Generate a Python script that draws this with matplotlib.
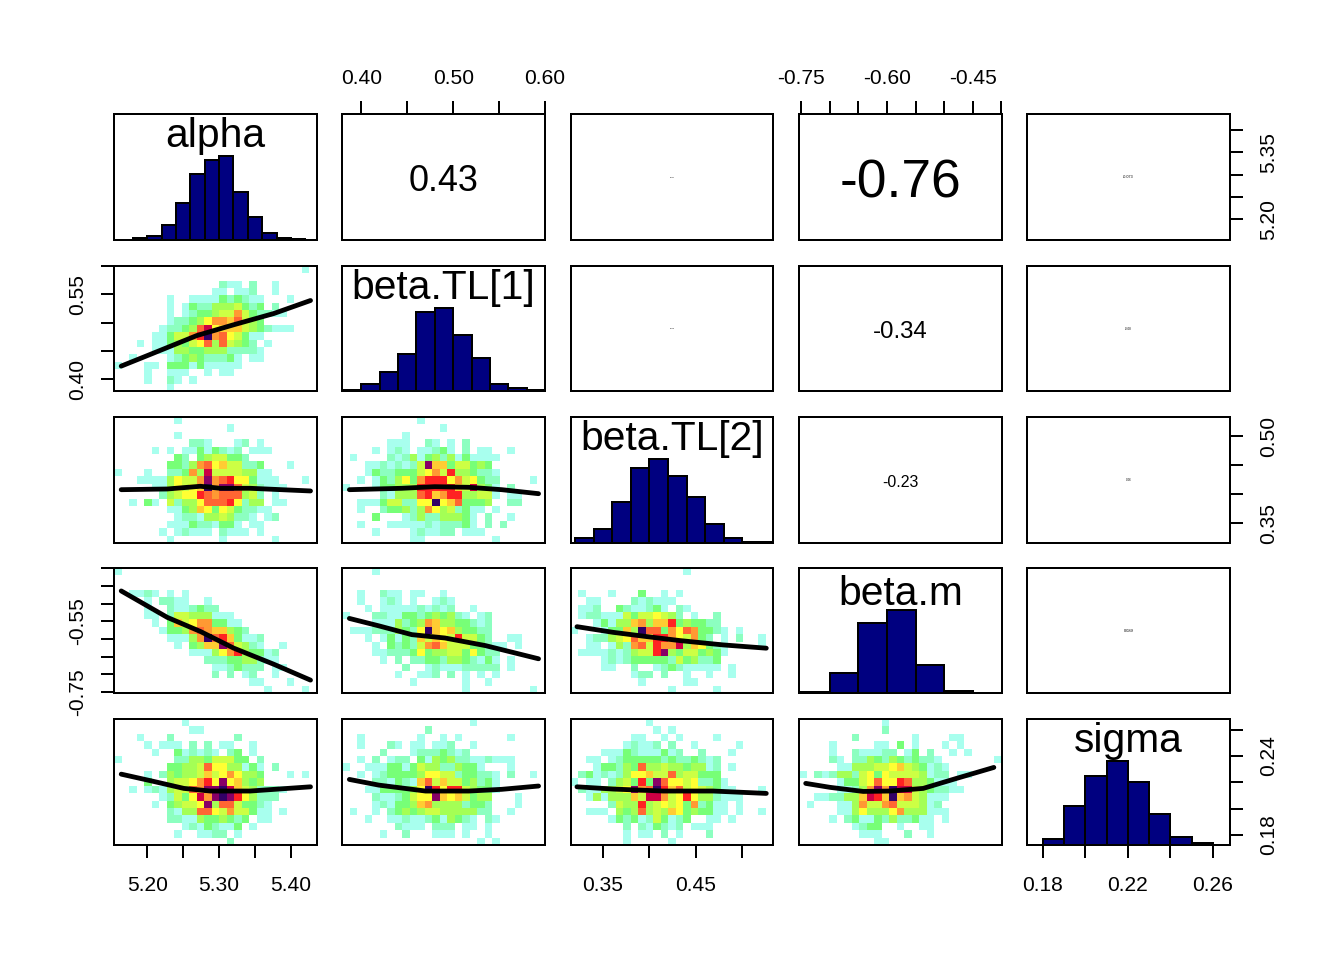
import numpy as np
import matplotlib
matplotlib.use("Agg")
import matplotlib.pyplot as plt
from matplotlib.colors import ListedColormap, BoundaryNorm

plt.rcParams['font.family'] = ['Liberation Sans', 'DejaVu Sans']

# parameter names and their plotted ranges
names = ["alpha", "beta.TL[1]", "beta.TL[2]", "beta.m", "sigma"]
lims = [(5.154, 5.436), (0.379, 0.600), (0.3156, 0.5328), (-0.7535, -0.399), (0.1725, 0.268)]

# axis ticks
ticks = [
    [5.20, 5.25, 5.30, 5.35, 5.40],
    [0.40, 0.45, 0.50, 0.55, 0.60],
    [0.35, 0.40, 0.45, 0.50],
    [-0.75, -0.70, -0.65, -0.60, -0.55, -0.50, -0.45, -0.40],
    [0.18, 0.20, 0.22, 0.24, 0.26],
]
bottom_labels = {0: ["5.20", "", "5.30", "", "5.40"],
                 2: ["0.35", "", "0.45", ""],
                 4: ["0.18", "", "0.22", "", "0.26"]}
top_labels = {1: ["0.40", "", "0.50", "", "0.60"],
              3: ["-0.75", "", "", "-0.60", "", "", "-0.45", ""]}
left_labels = {1: ["0.40", "", "", "0.55", ""],
               3: ["-0.75", "", "", "", "-0.55", "", "", ""]}
right_labels = {0: ["5.20", "", "", "5.35", ""],
                2: ["0.35", "", "", "0.50"],
                4: ["0.18", "", "", "0.24", ""]}

# histograms: bin breaks and counts
alpha_breaks = [5.16, 5.18, 5.20, 5.22, 5.24, 5.26, 5.28, 5.30, 5.32, 5.34, 5.36, 5.38, 5.40, 5.42, 5.44]
alpha_counts = [1, 5, 13, 45, 110, 200, 242, 253, 145, 70, 20, 5, 2, 1]
tl1_breaks = [0.38, 0.40, 0.42, 0.44, 0.46, 0.48, 0.50, 0.52, 0.54, 0.56, 0.58, 0.60]
tl1_counts = [1, 7, 19, 37, 80, 84, 56, 33, 7, 3, 1]
tl2_breaks = [0.32, 0.34, 0.36, 0.38, 0.40, 0.42, 0.44, 0.46, 0.48, 0.50, 0.52, 0.54]
tl2_counts = [5, 14, 41, 76, 85, 68, 47, 19, 5, 1, 1]
m_breaks = [-0.75, -0.70, -0.65, -0.60, -0.55, -0.50, -0.45, -0.40]
m_counts = [1, 20, 71, 84, 28, 2, 0]
sigma_breaks = [0.17, 0.18, 0.19, 0.20, 0.21, 0.22, 0.23, 0.24, 0.25, 0.26, 0.27]
sigma_counts = [0, 6, 39, 68, 83, 62, 31, 8, 2, 0]

# correlations in the upper panels: (row, col, text, font size)
cor_text = [
    (0, 1, "0.43", 18), (0, 2, "0.011", 0.6), (0, 3, "-0.76", 26.7), (0, 4, "-0.073", 1.9),
    (1, 2, "0.012", 0.6), (1, 3, "-0.34", 12), (1, 4, "-0.08", 1.5),
    (2, 3, "-0.23", 8), (2, 4, "0.06", 1.5),
    (3, 4, "0.089", 2),
]

# density levels of the lower panels (row 0 = top of the panel)
grid_1_0 = """
0000000000 0000000000 0000010
0000000000 0000000000 0000000
0000000000 0000211020 0100000
0000000000 0001101120 0100000
0000000100 1111323211 0001000
0000000101 3224445323 0200000
0000000101 2334558532 2110000
0000000122 3468879543 0000000
0000001223 49b6777543 2111000
0000011355 8ad8965311 0000000
0001011343 5694954320 1000000
0000011144 3344422221 0000000
0010000123 4322231011 0000000
1000110333 1311111000 0000000
0000100111 0010110000 0000000
0000100210 1000000000 0000000
0000000100 0000000000 0000000
"""
grid_2_0 = """
0000000010 0000000000 0000000
0000000000 0000010000 0000000
0000000010 0000000000 0000000
0000000000 2210001201 0000000
0000010101 1313212011 1000000
0000000032 0345533200 0000000
0000000332 4896755223 0001000
1000100223 84b5555441 1000000
0001111465 58c89a6631 1100010
0000011465 67d8cc9542 1110000
0000002456 6a98999452 0100000
0010310524 46999a6244 0110000
0000000113 4763653221 1000000
0000000012 2144542210 1200000
0000000111 3221331011 0000000
0000001012 1110211101 0000000
0000000100 0000100000 0100000
"""
grid_3_0 = """
1000000000 0000000000 0000000
0000000000 0000000000 0000000
0000000000 0000000000 0000000
0011210101 0000000000 0000000
0000102211 0010000000 0000000
0000100211 2322000000 0000000
0000110255 4441110000 0000000
0000010375 6883311000 0000000
0000001334 8987743200 0000000
0000000111 48d9a73112 0000000
0000000010 3477c95421 0010000
0000000000 111468a433 1200000
0000000000 0022233442 1100000
0000000000 0001123222 0110000
0000000000 0002020120 0100000
0000000000 0000000011 0001000
0000000000 0000000000 1000010
"""
grid_4_0 = """
0000000001 0000000000 0000000
0000000000 1100000000 0000000
0001000200 0000002000 0000000
0000101110 2020110010 0000000
0000010031 2121023010 0000000
1000000022 4435553302 0000000
0000000334 4596644131 0200000
0000102434 4575686443 0001010
0000300455 68a6c67434 0000000
0010121455 98ccdb7542 2210000
0000001253 6b8cdca642 2200000
0000010345 56c4995332 1000000
0000000214 4996585531 1010000
0000000221 1433432301 1000000
0000000001 2132113010 0000000
0000000010 0112201000 0000000
0000000000 0000020000 0000000
"""
grid_2_1 = """
0000000000 1000000000 0000000
0000000000 0001000000 0000000
0000000010 0000000000 0000000
0000001110 0210102000 0000000
0000101210 1123102011 0010000
0100002124 1342413111 1000000
0001121212 5c77355343 0000000
0001322333 5685a44322 1000000
0010132463 8aaa685632 2000010
1000133444 aaaaa75b43 1020000
0000021444 9a78aa4455 1011000
0011135522 66d6793334 0022000
0010023342 4864523110 1000000
0000300012 4224443102 0010000
0010001111 1212223102 0200000
0000100001 2112201110 0000000
0000000001 1000000000 1000000
"""
grid_3_1 = """
0000100000 0000000000 0000000
0000000000 0000000000 0000000
0000000000 0000000000 0000000
0010021101 1001000000 0000000
0010012101 0012100000 0000000
0001011111 2121200100 0000000
1000221133 2343421012 0000000
0000111423 4874433212 0000000
0111222432 6d76743322 0000000
0001013132 75765a5532 0011000
0000103232 5897555332 1101000
0000112223 6344553632 2000000
0000010202 2332443213 1010000
0000000020 0121112222 2010000
0000000100 1120201010 1000000
0000000001 0000001001 0000000
0000000000 0000001000 0000010
"""
grid_4_1 = """
0000000000 0000000100 0000000
0000000000 0200000000 0000000
0010000000 1001010000 0010000
0010002101 1011200100 0000000
0000020001 2223212000 0000000
0010201220 3143422112 1110000
1001113313 5442243310 0010000
0010123333 4665523322 1020010
0000221321 7957553423 1000000
0001133334 6da6aa5433 1000000
0000211235 66c7675344 0001000
0000121334 7844442332 0001000
0100102343 4554444422 0010000
0001001121 1231432102 1000000
0000000211 1022201101 0000000
0000010020 0011101001 0000000
0000000000 0000000010 1000000
"""
grid_3_2 = """
0000000000 0000010000 0000000
0000000000 0000000000 0000000
0000000000 0000000000 0000000
0100010003 0010100000 0000000
0011000021 2111000000 0000000
0112003211 2310210000 0000000
0122111535 5654201002 0000000
0001314478 477a343322 0000000
100013374d 9938698332 1010000
0012245697 7aa8658320 1020010
0011014289 5a88b47632 1000010
0111121245 5ac4355343 1000000
0000121233 3332534223 0000000
0000110020 0123211111 0100000
0000000012 2020010010 0100000
0000000001 0000011000 0000000
0000000000 0001000001 0000000
"""
grid_4_2 = """
0000000000 1000000000 0000000
0000000000 0101000000 0000000
0000000011 0010100001 0000000
0000000121 1202001000 0010000
0000111321 1131200200 0100000
0011012333 3323223212 0000000
0001332439 4454434412 0100000
0231212466 7559455333 0000000
101102453a 3c96656223 1000000
02114456c8 9da7956543 1100010
0014144475 bb856a6442 1110000
000002544a 4565638231 1010000
0011104349 4547634331 1010010
0000013231 2531230011 0100000
0000000202 1321201110 0000000
0000000101 1020100020 0000000
0000000100 0001000000 0000000
"""
grid_4_3 = """
0000000000 0100000000 0000000
0000000000 0200000000 0000000
0000000200 0000010000 1100000
0000100000 1103010001 0100000
0000100211 1220130200 1010000
0000210224 3243232210 0000001
0000011444 5567543121 0000000
1021244256 3655554122 0110000
0000013356 966a944311 1000000
0000011248 c8dbb54322 1100000
001122447b a7d7854111 0000000
0100011485 5895554120 0000000
0000011464 4468444111 0000000
0000102311 3242231101 0000000
0000000123 3001001100 0000000
0000000011 1000200100 0000000
0000000000 1100000000 0000000
"""
grids = {(1, 0): grid_1_0, (2, 0): grid_2_0, (3, 0): grid_3_0, (4, 0): grid_4_0,
         (2, 1): grid_2_1, (3, 1): grid_3_1, (4, 1): grid_4_1,
         (3, 2): grid_3_2, (4, 2): grid_4_2, (4, 3): grid_4_3}

# smoothed trend lines (x values, y values)
trends = {
    (1, 0): ([5.164, 5.205, 5.269, 5.320, 5.376, 5.427], [0.423, 0.444, 0.477, 0.496, 0.516, 0.539]),
    (2, 0): ([5.164, 5.228, 5.274, 5.302, 5.343, 5.427], [0.4075, 0.4087, 0.4134, 0.4099, 0.4099, 0.4053]),
    (3, 0): ([5.164, 5.228, 5.274, 5.320, 5.376, 5.427], [-0.464, -0.539, -0.579, -0.626, -0.672, -0.717]),
    (4, 0): ([5.164, 5.205, 5.251, 5.288, 5.343, 5.427], [0.2262, 0.2212, 0.2154, 0.2134, 0.2134, 0.2166]),
    (2, 1): ([0.387, 0.444, 0.480, 0.517, 0.553, 0.593], [0.4075, 0.4099, 0.4127, 0.4116, 0.4075, 0.4006]),
    (3, 1): ([0.387, 0.419, 0.455, 0.491, 0.535, 0.593], [-0.542, -0.563, -0.588, -0.5975, -0.619, -0.6565]),
    (4, 1): ([0.387, 0.419, 0.470, 0.517, 0.553, 0.593], [0.2222, 0.2179, 0.2134, 0.2134, 0.2147, 0.2172]),
    (3, 2): ([0.322, 0.361, 0.397, 0.4325, 0.479, 0.5256], [-0.5654, -0.5815, -0.5935, -0.6048, -0.6171, -0.6264]),
    (4, 2): ([0.322, 0.361, 0.4145, 0.4683, 0.5256], [0.2166, 0.2149, 0.2134, 0.2134, 0.2116]),
    (4, 3): ([-0.7418, -0.6994, -0.6413, -0.5947, -0.5366, -0.4783, -0.4132],
             [0.2192, 0.2162, 0.2131, 0.2134, 0.2154, 0.223, 0.2313]),
}

histograms = [(alpha_breaks, alpha_counts), (tl1_breaks, tl1_counts), (tl2_breaks, tl2_counts),
              (m_breaks, m_counts), (sigma_breaks, sigma_counts)]

level_colors = ["#FFFFFF", "#A8FFEE", "#8CFFC0", "#77FF77", "#A4FF55", "#CCFF44", "#FFFF33",
                "#FFCC33", "#FF9933", "#FF6633", "#FF2222", "#CC0044", "#880066", "#330066"]
cmap = ListedColormap(level_colors)
norm = BoundaryNorm(np.arange(-0.5, 14.5), cmap.N)

W, H = 1344, 960
fig = plt.figure(figsize=(W / 144, H / 144), dpi=144, facecolor="white")
col_px = [(114, 317), (342, 545), (571, 773), (799, 1002), (1027, 1230)]
row_px = [(114, 240), (266, 391), (417, 543), (568, 693), (719, 845)]
name_y = [0.825, 0.825, 0.825, 0.795, 0.825]

LW = 1.0
TICK_FS = 10.5


def parse(grid):
    rows = [r.replace(" ", "").ljust(27, "0") for r in grid.strip().splitlines()]
    return np.array([[int(c, 16) for c in r] for r in rows])


for r in range(5):
    for c in range(5):
        x0, x1 = col_px[c]
        y0, y1 = row_px[r]
        ax = fig.add_axes([x0 / W, 1 - y1 / H, (x1 - x0) / W, (y1 - y0) / H])
        for s in ax.spines.values():
            s.set_linewidth(LW)
        ax.set_xticks([])
        ax.set_yticks([])
        ax.tick_params(length=6.5, width=LW, labelsize=TICK_FS)
        if r == c:
            breaks, counts = histograms[r]
            # counts are scaled so the tallest bar reaches two thirds of this parameter's range
            scale = (lims[r][1] - lims[r][0]) / (max(counts) * 1.5)
            ax.bar(breaks[:-1], np.array(counts) * scale, bottom=lims[r][0], width=np.diff(breaks),
                   align="edge", color="#000080", edgecolor="black", linewidth=LW)
            ax.set_xlim(*lims[c])
            ax.set_ylim(*lims[r])
            ax.text(0.5, name_y[r], names[r], transform=ax.transAxes, ha="center",
                    va="center", fontsize=20.4)
        elif r > c:
            z = parse(grids[(r, c)])
            xe = np.linspace(lims[c][0], lims[c][1], z.shape[1] + 1)
            ye = np.linspace(lims[r][1], lims[r][0], z.shape[0] + 1)
            ax.pcolormesh(xe, ye, z, cmap=cmap, norm=norm, shading="flat", antialiased=False)
            tx, ty = trends[(r, c)]
            ax.plot(tx, ty, color="black", lw=2.4, solid_capstyle="round",
                    solid_joinstyle="round")
            ax.set_xlim(*lims[c])
            ax.set_ylim(*lims[r])
        else:
            ax.set_xlim(*lims[c])
            ax.set_ylim(*lims[r])
        # outer axes
        if r == 4 and c in bottom_labels:
            ax.set_xticks(ticks[c])
            ax.set_xticklabels(bottom_labels[c])
            ax.tick_params(axis="x", bottom=True, pad=9)
        if r == 0 and c in top_labels:
            ax.xaxis.tick_top()
            ax.set_xticks(ticks[c])
            ax.set_xticklabels(top_labels[c])
            ax.tick_params(axis="x", top=True, pad=6.5)
        if c == 0 and r in left_labels:
            ax.set_yticks(ticks[r])
            ax.set_yticklabels(left_labels[r], rotation=90, va="center")
            ax.tick_params(axis="y", left=True, pad=7)
        if c == 4 and r in right_labels:
            ax.yaxis.tick_right()
            ax.set_yticks(ticks[r])
            ax.set_yticklabels(right_labels[r], rotation=90, va="center")
            ax.tick_params(axis="y", right=True, pad=8)

for r, c, txt, fs in cor_text:
    x0, x1 = col_px[c]
    y0, y1 = row_px[r]
    yc = (y0 + y1) / 2 + fs * 0.26
    fig.text((x0 + x1) / 2 / W, 1 - yc / H, txt, ha="center", va="center", fontsize=fs)

fig.savefig("out.png", dpi=144, facecolor="white")
